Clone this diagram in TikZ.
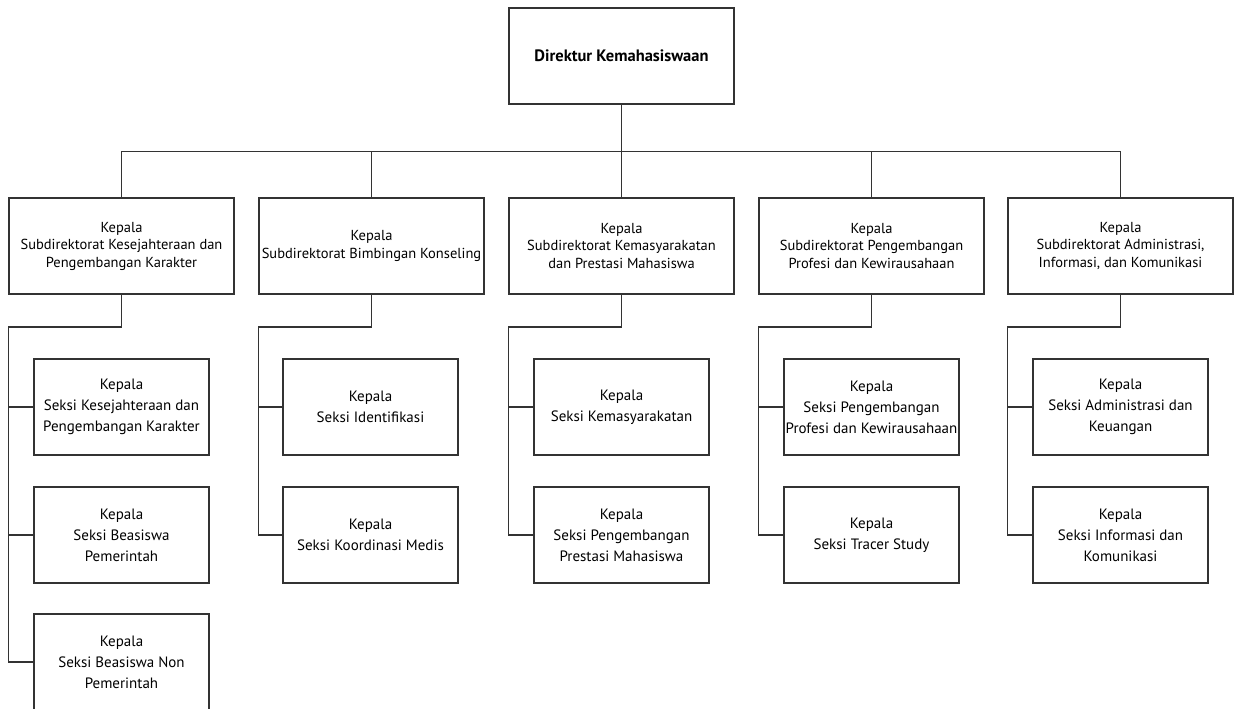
\documentclass[tikz,border=0pt]{standalone}
\usepackage{fontspec}
\setmainfont{PT Sans}
\begin{document}
\begin{tikzpicture}[x=1pt,y=-1pt,
  headbox/.style={draw=black!80, line width=1.2pt, minimum width=225pt, minimum height=96pt,
    inner sep=0pt, align=center, font=\fontsize{16.5}{20}\selectfont\bfseries},
  subbox/.style={draw=black!80, line width=1.2pt, minimum width=225pt, minimum height=96pt,
    inner sep=0pt, align=center, font=\fontsize{14.5}{17.5}\selectfont},
  secbox/.style={draw=black!80, line width=1.2pt, minimum width=175pt, minimum height=96pt,
    inner sep=0pt, align=center, font=\fontsize{15}{21}\selectfont},
  wire/.style={draw=black!80, line width=1.2pt}
]
\useasboundingbox (0,0) rectangle (1234,709);

% director
\node[headbox] (D) at (621.5,56) {Direktur Kemahasiswaan};

% sub-directorates
\node[subbox] (S1) at (121.5,246) {Kepala\\Subdirektorat Kesejahteraan dan\\Pengembangan Karakter};
\node[subbox] (S2) at (371.5,246) {Kepala\\Subdirektorat Bimbingan Konseling};
\node[subbox] (S3) at (621.5,246) {Kepala\\Subdirektorat Kemasyarakatan\\dan Prestasi Mahasiswa};
\node[subbox] (S4) at (871.5,246) {Kepala\\Subdirektorat Pengembangan\\Profesi dan Kewirausahaan};
\node[subbox] (S5) at (1120.5,246) {Kepala\\Subdirektorat Administrasi,\\Informasi, dan Komunikasi};

% sections
\node[secbox] (C1a) at (121.5,407) {Kepala\\Seksi Kesejahteraan dan\\Pengembangan Karakter};
\node[secbox] (C1b) at (121.5,535) {Kepala\\Seksi Beasiswa\\Pemerintah};
\node[secbox] (C1c) at (121.5,662) {Kepala\\Seksi Beasiswa Non\\Pemerintah};

\node[secbox] (C2a) at (370.5,407) {Kepala\\Seksi Identifikasi};
\node[secbox] (C2b) at (370.5,535) {Kepala\\Seksi Koordinasi Medis};

\node[secbox] (C3a) at (621.5,407) {Kepala\\Seksi Kemasyarakatan};
\node[secbox] (C3b) at (621.5,535) {Kepala\\Seksi Pengembangan\\Prestasi Mahasiswa};

\node[secbox] (C4a) at (871.5,407) {Kepala\\Seksi Pengembangan\\Profesi dan Kewirausahaan};
\node[secbox] (C4b) at (871.5,535) {Kepala\\Seksi Tracer Study};

\node[secbox] (C5a) at (1120.5,407) {Kepala\\Seksi Administrasi dan\\Keuangan};
\node[secbox] (C5b) at (1120.5,535) {Kepala\\Seksi Informasi dan\\Komunikasi};

% top bus
\coordinate (bus) at (0,151.5);
\draw[wire] (D.south) -- (D.south |- bus);
\draw[wire] (S1.north) -- (S1.north |- bus) -- (S5.north |- bus) -- (S5.north);
\foreach \s in {S2,S3,S4}
  \draw[wire] (\s.north) -- (\s.north |- bus);

% section spines
\coordinate (knee) at (0,327);
\draw[wire] (S1.south) -- (S1.south |- knee) -- (S1.south west |- knee) -- (S1.south west |- C1c.west) -- (C1c.west);
\draw[wire] (S1.south west |- C1a.west) -- (C1a.west);
\draw[wire] (S1.south west |- C1b.west) -- (C1b.west);
\foreach \i in {2,3,4,5} {
  \draw[wire] (S\i.south) -- (S\i.south |- knee) -- (S\i.south west |- knee) -- (S\i.south west |- C\i b.west) -- (C\i b.west);
  \draw[wire] (S\i.south west |- C\i a.west) -- (C\i a.west);
}
\end{tikzpicture}
\end{document}
